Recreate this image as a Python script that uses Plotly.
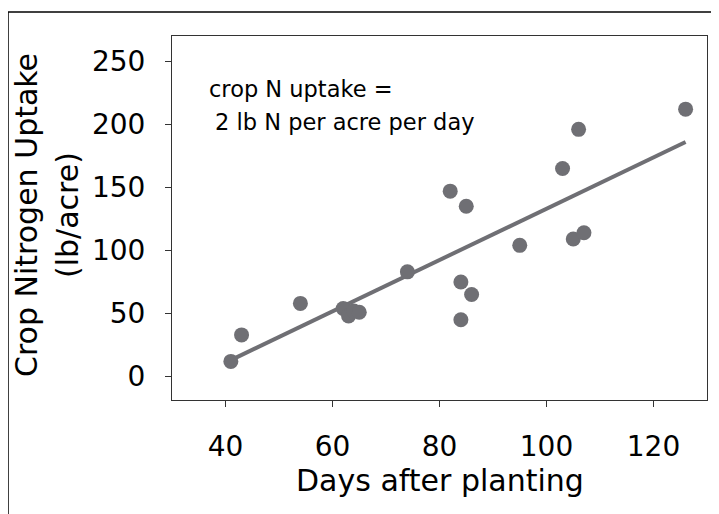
import plotly.graph_objects as go

# Data
days = [41, 43, 54, 62, 63, 64, 65, 74, 82, 84, 84, 85, 86, 95, 103, 105, 106, 107, 126]
uptake = [12, 33, 58, 54, 48, 52, 51, 83, 147, 75, 45, 135, 65, 104, 165, 109, 196, 114, 212]

fit_days = [41, 126]
fit_uptake = [13, 186]

x_ticks = [40, 60, 80, 100, 120]
y_ticks = [0, 50, 100, 150, 200, 250]

GRAY = "#6f6f74"
FONT = "DejaVu Sans"

fig = go.Figure()
fig.add_trace(go.Scatter(x=fit_days, y=fit_uptake, mode="lines",
                         line=dict(color=GRAY, width=4), showlegend=False,
                         hoverinfo="skip"))
fig.add_trace(go.Scatter(x=days, y=uptake, mode="markers",
                         marker=dict(color=GRAY, size=15, line=dict(width=0)),
                         showlegend=False))

OFF = 8  # page body margin offset
W, H = 719 - OFF, 514 - OFF
L, R, T, B = 172 - OFF, 12, 36 - OFF, 122 - OFF
pw, ph = W - L - R, H - T - B

def px_x(p):
    return (p - OFF - L) / pw

def px_y(p):
    return 1 - (p - OFF - T) / ph

fig.update_layout(
    width=W, height=H,
    margin=dict(l=L, r=R, t=T, b=B, pad=0),
    paper_bgcolor="white", plot_bgcolor="white",
    font=dict(family=FONT, color="black"),
    xaxis=dict(range=[30, 130], tickvals=x_ticks, ticks="outside", ticklen=6,
               tickcolor="#333", tickfont=dict(size=28, family=FONT),
               showline=True, linecolor="#333", linewidth=1, mirror=True,
               showgrid=False, zeroline=False, ticklabelstandoff=15),
    yaxis=dict(range=[-18.6, 270], tickvals=y_ticks, ticks="outside", ticklen=6,
               tickcolor="#333", tickfont=dict(size=28, family=FONT),
               showline=True, linecolor="#333", linewidth=1, mirror=True,
               showgrid=False, zeroline=False, ticklabelstandoff=14),
)

annos = [
    dict(text="crop N uptake =", x=px_x(207), y=px_y(89), xanchor="left", yanchor="middle",
         font=dict(size=22.5)),
    dict(text="2 lb N per acre per day", x=px_x(213), y=px_y(122), xanchor="left", yanchor="middle",
         font=dict(size=22.5)),
    dict(text="Days after planting", x=px_x(440), y=px_y(480), xanchor="center", yanchor="middle",
         font=dict(size=30)),
    dict(text="Crop Nitrogen Uptake", x=px_x(26), y=px_y(215), xanchor="center", yanchor="middle",
         textangle=-90, font=dict(size=30)),
    dict(text="(lb/acre)", x=px_x(67), y=px_y(215), xanchor="center", yanchor="middle",
         textangle=-90, font=dict(size=30)),
]
for a in annos:
    a.update(xref="paper", yref="paper", showarrow=False)
    fig.add_annotation(**a)

# outer frame (left and top edges visible)
fig.add_shape(type="line", xref="paper", yref="paper",
              x0=px_x(8), x1=px_x(8), y0=px_y(12), y1=px_y(530),
              line=dict(color="black", width=1.5))
fig.add_shape(type="line", xref="paper", yref="paper",
              x0=px_x(8), x1=px_x(740), y0=px_y(12), y1=px_y(12),
              line=dict(color="black", width=1.5))

fig.write_html("out.html")
